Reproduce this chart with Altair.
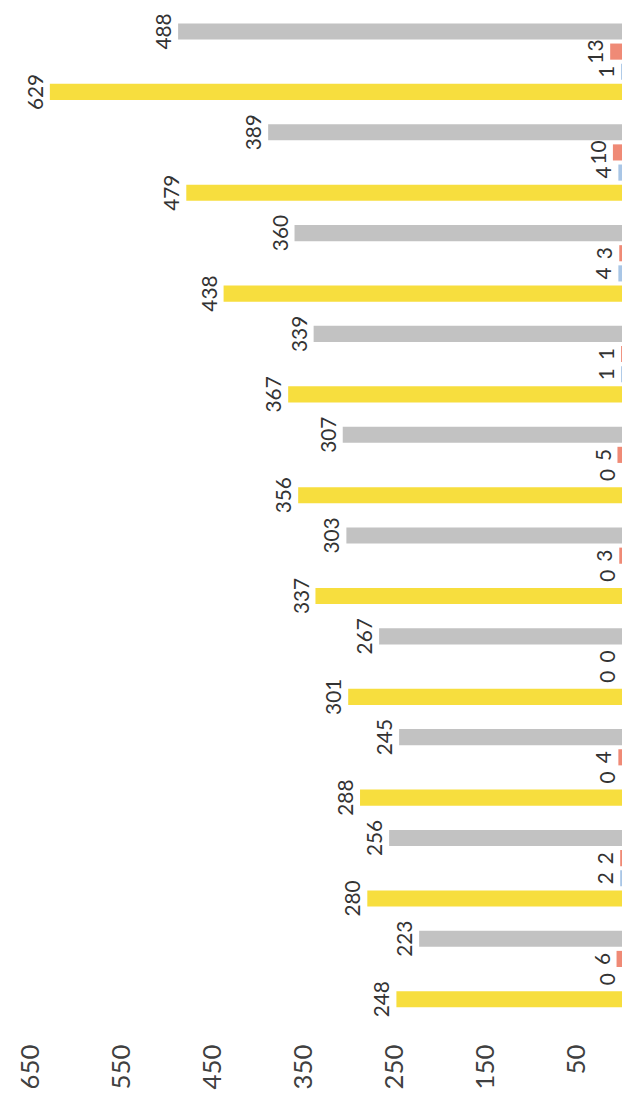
import altair as alt
import pandas as pd

# groups in original left-to-right order (drawn bottom-to-top after rotation)
groups = ["1", "2", "3", "4", "5", "6", "7", "8", "9", "10"]
yellow_vals = [248, 280, 288, 301, 337, 356, 367, 438, 479, 629]
gray_vals = [223, 256, 245, 267, 303, 307, 339, 360, 389, 488]
blue_vals = [0, 2, 0, 0, 0, 0, 1, 4, 4, 1]
red_vals = [6, 2, 4, 0, 3, 5, 1, 3, 10, 13]
tick_values = [50, 150, 250, 350, 450, 550, 650]

series_names = ["A", "B", "C", "D"]
series_colors = ["#f7de3e", "#a9c6e6", "#ef8a76", "#c2c2c2"]

rows = []
for i, g in enumerate(groups):
    for s, vals in zip(series_names, [yellow_vals, blue_vals, red_vals, gray_vals]):
        rows.append({"group": g, "series": s, "value": vals[i]})
df = pd.DataFrame(rows)

FONT = "Lato"

base = alt.Chart(df).encode(
    y=alt.Y(
        "group:N",
        sort=groups[::-1],
        scale=alt.Scale(paddingInner=0, paddingOuter=0, range=[-4, 1014]),
        axis=alt.Axis(orient="right", labels=False, ticks=False, title=None,
                      domainColor="#d4d4d4", grid=False),
    ),
    yOffset=alt.YOffset(
        "series:N",
        sort=["D", "C", "B", "A"],
        scale=alt.Scale(paddingInner=0.2, paddingOuter=0.6),
    ),
    x=alt.X(
        "value:Q",
        scale=alt.Scale(domain=[0, 675], reverse=True, nice=False),
        axis=alt.Axis(values=tick_values, labelAngle=270, labelFont=FONT,
                      labelFontSize=26, labelColor="#404040", domain=False,
                      ticks=False, grid=False, labelPadding=21, title=None),
    ),
)

bars = base.mark_bar().encode(
    color=alt.Color("series:N",
                    scale=alt.Scale(domain=series_names, range=series_colors),
                    legend=None)
)

labels = base.mark_text(angle=270, baseline="bottom", align="center", dy=-3,
                        font=FONT, fontSize=21, color="#333333").encode(
    text="value:Q"
)

chart = (
    (bars + labels)
    .properties(width=620, height=1018, padding=0, background="white")
    .configure_view(stroke=None)
)

chart.save("out.html", embed_options={"renderer": "svg", "actions": False})
